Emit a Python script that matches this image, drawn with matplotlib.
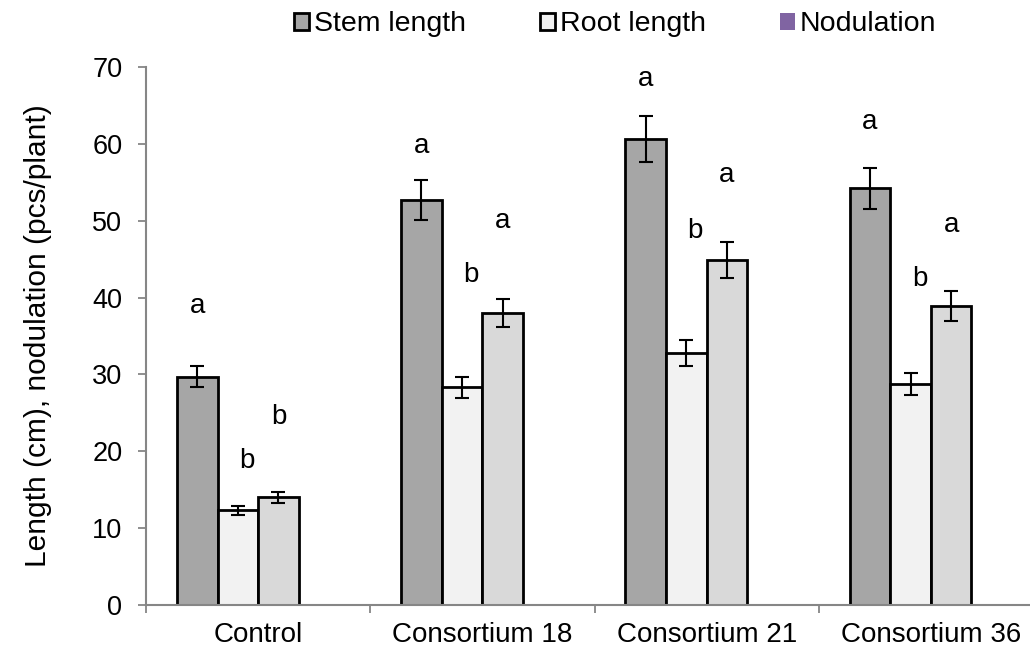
import numpy as np
import matplotlib
matplotlib.use('Agg')
import matplotlib.pyplot as plt

plt.rcParams['font.family'] = ['Liberation Sans', 'DejaVu Sans']

groups = ['Control', 'Consortium 18', 'Consortium 21', 'Consortium 36']

stem = [29.7, 52.7, 60.6, 54.2]
stem_err = [1.4, 2.6, 3.0, 2.7]
root = [12.3, 28.3, 32.8, 28.8]
root_err = [0.55, 1.4, 1.65, 1.45]
third = [14.0, 38.0, 44.9, 38.9]
third_err = [0.7, 1.85, 2.3, 1.95]
nodulation = [np.nan, np.nan, np.nan, np.nan]  # legend entry only, no bars shown

# significance letters and the heights they sit at
stem_letters = ['a', 'a', 'a', 'a']
stem_letter_y = [38.9, 59.7, 68.4, 62.9]
root_letters = ['b', 'b', 'b', 'b']
root_letter_y = [18.8, 42.9, 48.6, 42.4]
third_letters = ['b', 'a', 'a', 'a']
third_letter_y = [24.4, 49.9, 56.0, 49.4]

AXIS_GREY = '#868686'

fig = plt.figure(figsize=(10.3, 6.5), dpi=100)
ax = fig.add_axes([146 / 1030, 45 / 650, (1043 - 146) / 1030, (605 - 67) / 650])

x = np.arange(len(groups))
w = 0.181
series = [
    (stem, stem_err, '#a6a6a6', 'Stem length', 2.0),
    (root, root_err, '#f2f2f2', 'Root length', 2.0),
    (third, third_err, '#d9d9d9', '_nolegend_', 2.0),
    (nodulation, None, '#8064a2', 'Nodulation', 0),
]
err_kw = dict(ecolor='black', elinewidth=1.5, capsize=4.8, capthick=1.5)
for i, (vals, err, col, lab, lw) in enumerate(series):
    ax.bar(x + (i - 1.5) * w, vals, w, yerr=err, color=col, edgecolor='black',
           linewidth=lw, label=lab, error_kw=err_kw, zorder=2)

for i, (letters, ly) in enumerate([(stem_letters, stem_letter_y),
                                    (root_letters, root_letter_y),
                                    (third_letters, third_letter_y)]):
    for xi, t, yy in zip(x, letters, ly):
        dx = 0.04 if (i == 1) else 0
        ax.text(xi + (i - 1.5) * w + dx, yy, t, ha='center', va='center', fontsize=20)

ax.set_xlim(-0.5, 3.5)
ax.set_ylim(0, 70)
ax.set_yticks(range(0, 71, 10))
ax.set_xticks(x)
ax.set_xticklabels(groups, fontsize=20)
ax.set_xticks(np.arange(-0.5, 4, 1), minor=True)
ax.tick_params(axis='x', which='major', length=0, pad=12)
ax.tick_params(axis='x', which='minor', length=6, width=1.3, color=AXIS_GREY, direction='out')
ax.tick_params(axis='y', length=6, width=1.3, color=AXIS_GREY, labelsize=19.5, pad=11)
for s in ['top', 'right']:
    ax.spines[s].set_visible(False)
for s in ['left', 'bottom']:
    ax.spines[s].set_color(AXIS_GREY)
    ax.spines[s].set_linewidth(1.5)
ax.set_ylabel('Length (cm), nodulation (pcs/plant)', fontsize=21.5)
ax.yaxis.set_label_coords(-0.105, 0.5)

ax.legend(loc='upper center', bbox_to_anchor=(615 / 1030, 1.0), bbox_transform=fig.transFigure,
          ncol=3, frameon=False, fontsize=20.5, handlelength=0.55, handleheight=0.55,
          handletextpad=0.15, columnspacing=2.6, borderaxespad=0.0)

fig.savefig('out.png', dpi=100)
